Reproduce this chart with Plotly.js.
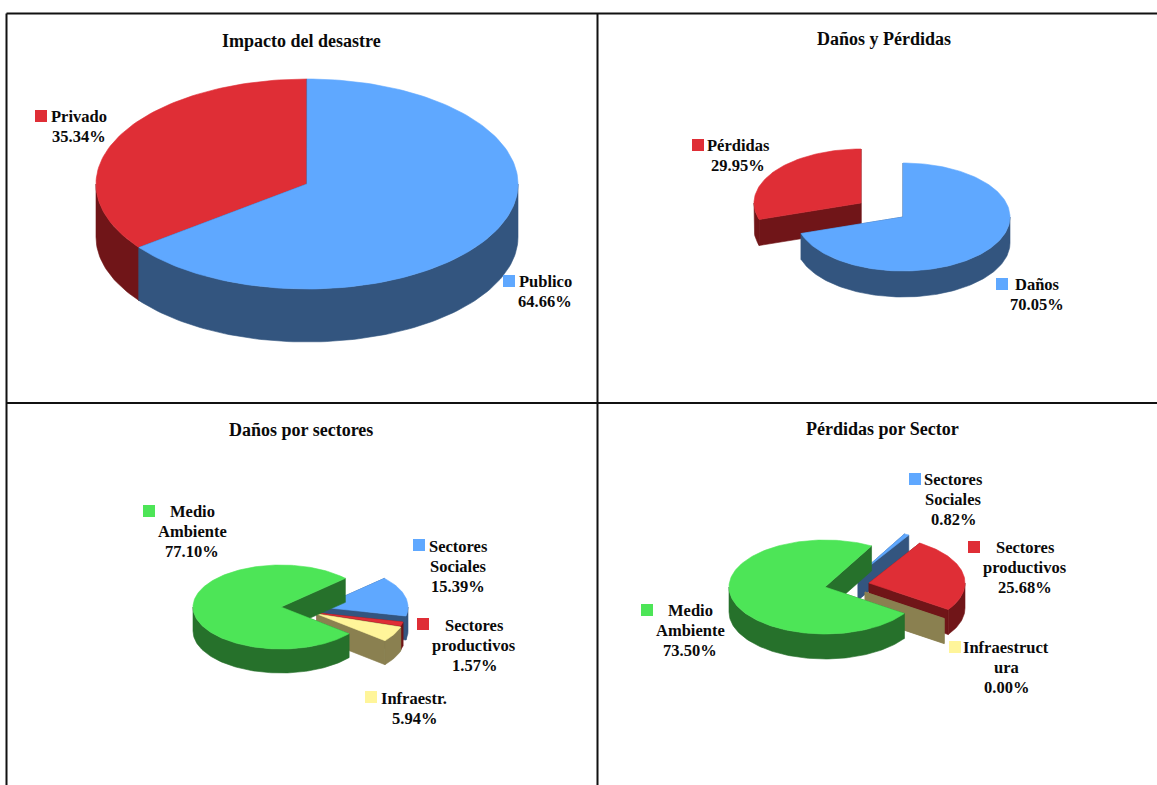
<!DOCTYPE html>
<html>
<head>
<meta charset="utf-8">
<script src="https://cdn.plot.ly/plotly-3.0.1.min.js"></script>
<style>html,body{margin:0;padding:0;background:#fff}#chart{width:1157px;height:785px}</style>
</head>
<body>
<div id="chart"></div>
<script>
// ---------- data ----------
const impactoLabels = ["Privado", "Publico"];
const impactoValues = [35.34, 64.66];
const danosPerdidasLabels = ["Pérdidas", "Daños"];
const danosPerdidasValues = [29.95, 70.05];
const danosSectorLabels = ["Sectores Sociales", "Sectores productivos", "Infraestr.", "Medio Ambiente"];
const danosSectorValues = [15.39, 1.57, 5.94, 77.10];
const perdidasSectorLabels = ["Sectores Sociales", "Sectores productivos", "Infraestructura", "Medio Ambiente"];
const perdidasSectorValues = [0.82, 25.68, 0.00, 73.50];
const panelTitles = ["Impacto del desastre", "Daños y Pérdidas", "Daños por sectores", "Pérdidas por Sector"];

// ---------- styles ----------
const palette = {
  blue:   {top: "#5FA8FF", side: "#33557F"},
  red:    {top: "#DF2E36", side: "#701518"},
  green:  {top: "#4DE557", side: "#26712B"},
  yellow: {top: "#FFF59A", side: "#8A8050"}
};
const FONT = "'Liberation Serif','Times New Roman',serif";
const TEXT = "#0a0a0a";

// ---------- layout of each 3-D pie (canvas units = px) ----------
// slices are listed in paint order; each one is swept clockwise from `start` (deg from 12 o'clock)
const pies = [
  {labels: impactoLabels, values: impactoValues, rx: 211, ry: 105, depth: 53, start: 232.8,
   colors: ["red", "blue"], centers: [[307,184],[307,184]]},
  {labels: danosPerdidasLabels, values: danosPerdidasValues, rx: 107, ry: 54, depth: 26, start: 252.2,
   colors: ["red", "blue"], centers: [[861,203],[903,217]]},
  {labels: danosSectorLabels, values: danosSectorValues, rx: 88, ry: 42, depth: 24, start: 47,
   colors: ["blue", "red", "yellow", "green"], centers: [[320,607],[317,613],[317,614],[281,607]]},
  {labels: perdidasSectorLabels, values: perdidasSectorValues, rx: 96, ry: 47, depth: 25, start: 29,
   colors: ["blue", "red", "yellow", "green"], centers: [[858,575],[869,583],[865,592],[825,587]]}
];

const titlePos = [[301,41],[884,39],[301,430],[882,429]];
const callouts = [
  // pie, slice, text lines, centre x, first line y, key x, key y
  [0,0,["Privado"],79,116,41,116],
  [0,1,["Publico"],545,281,509,281],
  [1,0,["Pérdidas"],738,145,698,145],
  [1,1,["Daños"],1037,284,1002,284],
  [2,3,["Medio","Ambiente"],192,511,149,511],
  [2,0,["Sectores","Sociales"],458,546,419,545],
  [2,1,["Sectores","productivos"],474,625,423,624],
  [2,2,["Infraestr."],414,698,371,697],
  [3,0,["Sectores","Sociales"],953,479,915,479],
  [3,1,["Sectores","productivos"],1025,547,974,547],
  [3,3,["Medio","Ambiente"],690,610,647,610],
  [3,2,["Infraestruct","ura"],1006,647,955,647]
];

// ---------- geometry helpers ----------
const rad = d => d * Math.PI / 180;
function rim(c, p, t, dz) {
  return [c[0] + p.rx * Math.sin(rad(t)), c[1] - p.ry * Math.cos(rad(t)) + (dz || 0)];
}
function sweep(a, b) {
  const n = Math.max(2, Math.ceil(Math.abs(b - a) / 1.5));
  const out = [];
  for (let i = 0; i <= n; i++) out.push(a + (b - a) * i / n);
  return out;
}
function poly(pts, color, name) {
  return {
    type: "scatter", mode: "lines", fill: "toself", fillcolor: color,
    x: pts.map(p => p[0]), y: pts.map(p => p[1]),
    line: {color: color, width: 0.6}, name: name, hoverinfo: "name", showlegend: false
  };
}
function sliceTraces(p, i, t0, t1) {
  const c = p.centers[i], col = palette[p.colors[i]], name = p.labels[i];
  const tr = [];
  // radial faces
  [t0, t1].forEach(t => {
    const e = rim(c, p, t);
    tr.push(poly([c, e, [e[0], e[1] + p.depth], [c[0], c[1] + p.depth], c], col.side, name));
  });
  // outer wall: only the part of the rim that faces the viewer
  [0, 360].forEach(k => {
    const a = Math.max(t0, 90 + k), b = Math.min(t1, 270 + k);
    if (b > a) {
      const ts = sweep(a, b);
      const pts = ts.map(t => rim(c, p, t)).concat(ts.slice().reverse().map(t => rim(c, p, t, p.depth)));
      pts.push(pts[0]);
      tr.push(poly(pts, col.side, name));
    }
  });
  // top surface
  if (t1 > t0) {
    const pts = [c].concat(sweep(t0, t1).map(t => rim(c, p, t)));
    pts.push(c);
    tr.push(poly(pts, col.top, name));
  }
  return tr;
}

// ---------- traces ----------
const traces = [];
pies.forEach(p => {
  let t = p.start;
  p.values.forEach((v, i) => {
    const t1 = t + v * 3.6;
    sliceTraces(p, i, t, t1).forEach(tr => traces.push(tr));
    t = t1;
  });
});
// colour keys of the labels
traces.push({
  type: "scatter", mode: "markers",
  x: callouts.map(c => c[5]), y: callouts.map(c => c[6]),
  marker: {symbol: "square", size: 12, color: callouts.map(c => palette[pies[c[0]].colors[c[1]]].top), line: {width: 0}},
  hoverinfo: "skip", showlegend: false
});

// ---------- annotations ----------
const annotations = panelTitles.map((t, i) => ({
  text: "<b>" + t + "</b>", x: titlePos[i][0], y: titlePos[i][1], xref: "x", yref: "y",
  showarrow: false, xanchor: "center", yanchor: "middle",
  font: {family: FONT, size: 18, color: TEXT}
}));
const LINE = 20.4;
callouts.forEach(c => {
  const p = pies[c[0]];
  const lines = c[2].concat([p.values[c[1]].toFixed(2) + "%"]);
  lines.forEach((ln, k) => annotations.push({
    text: "<b>" + ln + "</b>", x: c[3], y: c[4] + k * LINE, xref: "x", yref: "y",
    showarrow: false, xanchor: "center", yanchor: "middle",
    font: {family: FONT, size: 16.5, color: TEXT}
  }));
});

// ---------- panel frame ----------
const frame = [[6.5,13.5,1157,13.5],[6.5,13.5,6.5,785],[597.5,13.5,597.5,785],[6.5,403,1157,403]];
const shapes = frame.map(f => ({
  type: "line", xref: "x", yref: "y", x0: f[0], y0: f[1], x1: f[2], y1: f[3],
  line: {color: "#111", width: 2}, layer: "below"
}));

const hidden = {visible: false, fixedrange: true};
Plotly.newPlot("chart", traces, {
  width: 1157, height: 785,
  margin: {l: 0, r: 0, t: 0, b: 0},
  paper_bgcolor: "#fff", plot_bgcolor: "#fff",
  xaxis: Object.assign({range: [0, 1157]}, hidden),
  yaxis: Object.assign({range: [785, 0]}, hidden),
  showlegend: false, annotations: annotations, shapes: shapes
}, {displayModeBar: false});
</script>
</body>
</html>
